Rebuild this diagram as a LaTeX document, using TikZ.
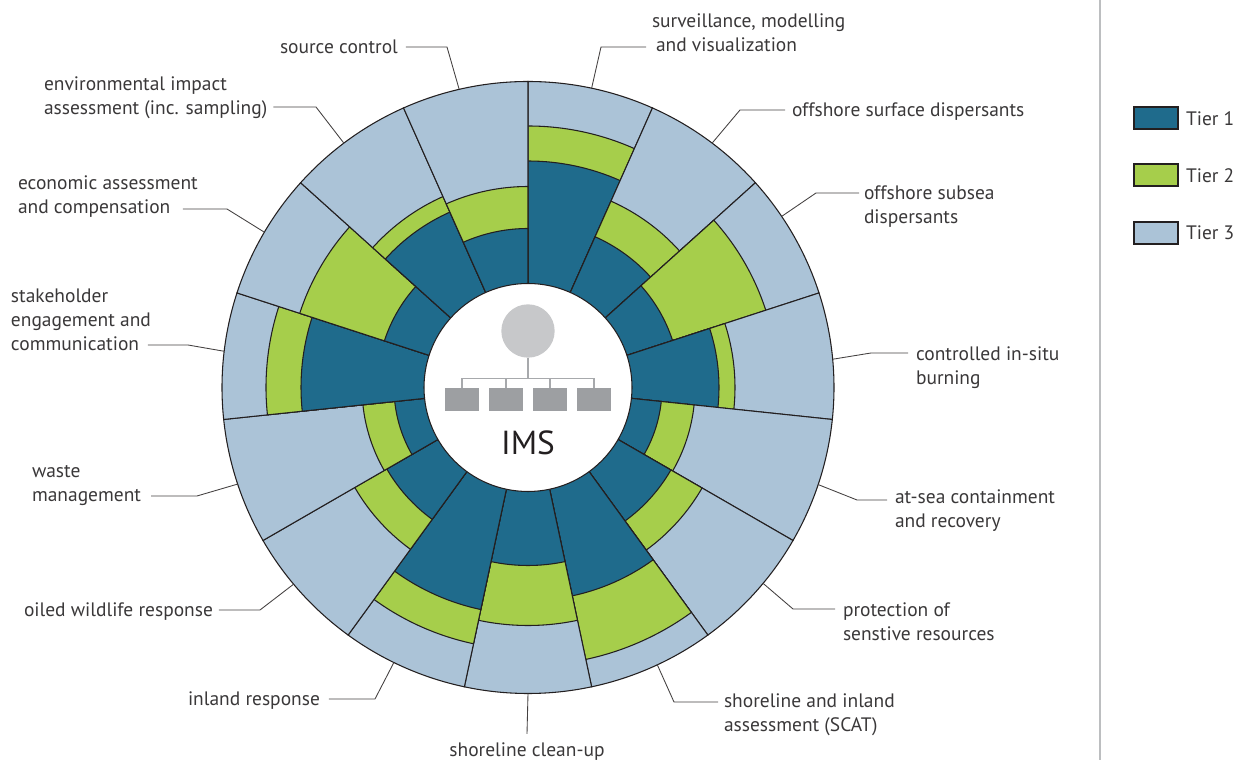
\documentclass[tikz,border=0pt]{standalone}
\usepackage{fontspec}
\setmainfont{PT Sans}
\definecolor{tone}{HTML}{1F6B8C}
\definecolor{ttwo}{HTML}{A6CE4B}
\definecolor{tthree}{HTML}{ABC3D7}
\definecolor{ink}{HTML}{231F20}
\definecolor{txt}{HTML}{3A3839}
\definecolor{orgline}{HTML}{A7A9AC}
\definecolor{orgbox}{HTML}{9D9FA2}
\definecolor{orghead}{HTML}{C7C8CA}
\definecolor{rule}{HTML}{BCBEC0}
\tikzset{
  sector/.style={draw=ink,line width=0.8pt,line join=miter},
  lab/.style={inner sep=0pt,outer sep=0pt,text=txt,font=\fontsize{14.6}{18}\selectfont,align=left},
  leaderline/.style={draw=ink!85,line width=0.65pt},
  orgbranch/.style={draw=orgline,line width=0.9pt},
  orgrect/.style={fill=orgbox,minimum width=25.5pt,minimum height=17.25pt,inner sep=0pt,outer sep=0pt},
  legbox/.style={draw=ink,line width=0.8pt,minimum width=33pt,minimum height=16.5pt,inner sep=0pt,outer sep=0pt},
}
\newcommand{\leader}[4]{\draw[leaderline] ([shift={#2}]#1) -- (#3) -- (#4);}
\begin{document}
\begin{tikzpicture}[x=0.75pt,y=0.75pt]
\useasboundingbox (0,0) rectangle (1240,760);
\coordinate (c) at (528,372.5);
% sectors: index / tier1 radius / tier2 radius
\begin{scope}[shift={(c)}]
\foreach \i/\ra/\rb in {0/226.5/261.5,1/165/204,2/152/250,3/191/207,4/134/167,5/165/201,6/213/278,7/178/238,8/227/262,9/163/200,10/134/166,11/227/262,12/151/240,13/192/209,14/159/201}{
  \pgfmathsetmacro{\as}{90-24*\i}
  \pgfmathsetmacro{\ae}{90-24*(\i+1)}
  \draw[sector,fill=tthree] (0,0) -- (\as:306) arc[start angle=\as,end angle=\ae,radius=306] -- cycle;
  \draw[sector,fill=ttwo] (0,0) -- (\as:\rb) arc[start angle=\as,end angle=\ae,radius=\rb] -- cycle;
  \draw[sector,fill=tone] (0,0) -- (\as:\ra) arc[start angle=\as,end angle=\ae,radius=\ra] -- cycle;
}
\draw[sector,fill=white] (0,0) circle[radius=104];
\end{scope}
% org chart
\node[circle,fill=orghead,minimum size=40pt,inner sep=0pt,outer sep=0pt] (head) at (528,429) {};
\node[orgrect] (b1) at (462,360.8) {};
\node[orgrect] (b2) at (506,360.8) {};
\node[orgrect] (b3) at (550,360.8) {};
\node[orgrect] (b4) at (594,360.8) {};
\coordinate (busl) at (462,381.3);
\coordinate (busr) at (594,381.3);
\coordinate (busm) at (528,381.3);
\draw[orgbranch] (head.south) -- (busm);
\draw[orgbranch] (b1.north) -- (busl) -- (busr) -- (b4.north);
\draw[orgbranch] (b2.north) -- (b2.north |- busl);
\draw[orgbranch] (b3.north) -- (b3.north |- busl);
\node[inner sep=0pt,text=ink,font=\fontsize{25}{30}\selectfont] (ims) at (528,317) {IMS};
% labels
\node[lab,anchor=west] (l0) at (652,727) {surveillance, modelling\\\hspace*{3pt}and visualization};
\node[lab,anchor=west] (l1) at (792,648) {offshore surface dispersants};
\node[lab,anchor=west] (l2) at (864,553) {offshore subsea\\dispersants};
\node[lab,anchor=west] (l3) at (916,392) {controlled in-situ\\burning};
\node[lab,anchor=west] (l4) at (895,249) {at-sea containment\\and recovery};
\node[lab,anchor=west] (l5) at (843,138) {protection of\\senstive resources};
\node[lab,anchor=west] (l6) at (724,45) {shoreline and inland\\assessment (SCAT)};
\node[lab] (l7) at (527,8) {shoreline clean-up};
\node[lab,anchor=west] (l8) at (188,59) {inland response};
\node[lab,anchor=west] (l9) at (24,148) {oiled wildlife response};
\node[lab,anchor=west] (l10) at (32,274) {waste\\management};
\node[lab,anchor=west] (l11) at (11,440) {stakeholder\\engagement and\\communication};
\node[lab,anchor=west] (l12) at (18,563) {economic assessment\\and compensation};
\node[lab,anchor=west] (l13) at (44,662) {environmental impact\\assessment (inc. sampling)};
\node[lab,anchor=west] (l14) at (280,713) {source control};
% leaders
\begin{scope}[shift={(c)}]
\coordinate (r0) at (78:306);\coordinate (r1) at (53:306);\coordinate (r2) at (34:306);
\coordinate (r3) at (5.3:306);\coordinate (r4) at (-18.5:306);\coordinate (r5) at (-39.8:306);
\coordinate (r6) at (-65:306);\coordinate (r7) at (-90:306);\coordinate (r8) at (-116:306);
\coordinate (r9) at (-140:306);\coordinate (r10) at (-161.6:306);\coordinate (r11) at (-186.8:306);
\coordinate (r12) at (-210.5:306);\coordinate (r13) at (-233:306);\coordinate (r14) at (-257:306);
\end{scope}
\coordinate (e0) at (601,713);\coordinate (e1) at (740,650);\coordinate (e2) at (816,567);
\coordinate (e3) at (871,407);\coordinate (e4) at (857,260);\coordinate (e5) at (793,151);
\coordinate (e6) at (674,58);\coordinate (e8) at (375,61);\coordinate (e9) at (260,150);
\coordinate (e10) at (197,264);\coordinate (e11) at (188,415);\coordinate (e12) at (227,551);
\coordinate (e13) at (316,653);\coordinate (e14) at (447,713);
\leader{l0.west}{(-6,-14)}{e0}{r0}
\leader{l1.west}{(-7,2)}{e1}{r1}
\leader{l2.west}{(-5,14)}{e2}{r2}
\leader{l3.west}{(-8,15)}{e3}{r3}
\leader{l4.west}{(-8,11)}{e4}{r4}
\leader{l5.west}{(-8,13)}{e5}{r5}
\leader{l6.west}{(-6,13)}{e6}{r6}
\draw[leaderline] (r7) -- ([yshift=7pt]l7.north);
\leader{l8.east}{(9,2)}{e8}{r8}
\leader{l9.east}{(6,2)}{e9}{r9}
\leader{l10.east}{(10,-10)}{e10}{r10}
\leader{l11.east}{(-3,-25)}{e11}{r11}
\leader{l12.east}{(-15,-12)}{e12}{r12}
\leader{l13.east}{(6,-9)}{e13}{r13}
\leader{l14.east}{(8,0)}{e14}{r14}
% rule
\draw[draw=rule,line width=1.5pt] (1100,760) -- (1100,0);
% legend
\node[legbox,fill=tone] (k1) at (1156,642) {};
\node[legbox,fill=ttwo] (k2) at (1156,585) {};
\node[legbox,fill=tthree] (k3) at (1156,527) {};
\node[lab,anchor=west] (t1) at (1186,641) {Tier 1};
\node[lab,anchor=west] (t2) at (1186,584) {Tier 2};
\node[lab,anchor=west] (t3) at (1186,527) {Tier 3};
\end{tikzpicture}
\end{document}
